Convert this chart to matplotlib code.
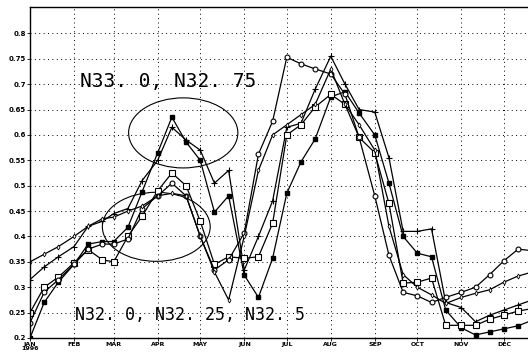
import numpy as np
import matplotlib
matplotlib.use("Agg")
from matplotlib import pyplot as plt
from matplotlib.patches import Ellipse

# dekad days (day of year), 3 per month
month_starts = [0, 31, 59, 90, 120, 151, 181, 212, 243, 273, 304, 334]
month_labels = ["JAN\n1996", "FEB", "MAR", "APR", "MAY", "JUN",
                "JUL", "AUG", "SEP", "OCT", "NOV", "DEC"]
days = [m + o for m in month_starts for o in (0, 10, 20)]

# series, one value per dekad
s_fill = [0.20, 0.27, 0.31, 0.345, 0.385, 0.39, 0.39, 0.418, 0.488,
          0.565, 0.635, 0.586, 0.55, 0.448, 0.48, 0.324, 0.28, 0.357,
          0.485, 0.547, 0.592, 0.675, 0.685, 0.643, 0.60, 0.505, 0.40,
          0.367, 0.36, 0.255, 0.22, 0.206, 0.212, 0.218, 0.224, 0.235]
s_plus = [0.315, 0.34, 0.36, 0.38, 0.42, 0.43, 0.445, 0.455, 0.51,
          0.55, 0.615, 0.59, 0.57, 0.505, 0.53, 0.334, 0.40, 0.47,
          0.615, 0.623, 0.69, 0.755, 0.70, 0.65, 0.645, 0.555, 0.41,
          0.41, 0.415, 0.27, 0.26, 0.232, 0.245, 0.255, 0.265, 0.275]
s_sq = [0.25, 0.30, 0.32, 0.348, 0.374, 0.354, 0.35, 0.40, 0.44,
        0.49, 0.525, 0.50, 0.43, 0.345, 0.36, 0.357, 0.36, 0.426,
        0.60, 0.62, 0.655, 0.68, 0.66, 0.595, 0.565, 0.465, 0.308,
        0.31, 0.318, 0.225, 0.225, 0.225, 0.237, 0.245, 0.253, 0.258]
s_circ = [0.23, 0.29, 0.315, 0.345, 0.375, 0.385, 0.385, 0.395, 0.455,
          0.48, 0.505, 0.48, 0.40, 0.334, 0.354, 0.407, 0.562, 0.627,
          0.753, 0.74, 0.73, 0.72, 0.68, 0.595, 0.48, 0.363, 0.29,
          0.283, 0.27, 0.28, 0.29, 0.30, 0.325, 0.352, 0.375, 0.372]
s_dot = [0.35, 0.365, 0.38, 0.40, 0.42, 0.435, 0.438, 0.45, 0.46,
         0.48, 0.485, 0.48, 0.40, 0.33, 0.275, 0.40, 0.53, 0.60,
         0.62, 0.64, 0.66, 0.73, 0.66, 0.62, 0.57, 0.42, 0.325,
         0.30, 0.285, 0.268, 0.28, 0.288, 0.295, 0.31, 0.322, 0.33]

fig = plt.figure(figsize=(5.28, 3.57), dpi=100)
ax = fig.add_axes([30 / 528, 19 / 357, 498 / 528, 331 / 357])

ax.plot(days, s_fill, color="black", lw=0.9, marker="s", ms=2.5,
        mfc="black", mec="black")
ax.plot(days, s_plus, color="black", lw=0.9, marker="+", ms=4, mew=0.8)
ax.plot(days, s_sq, color="black", lw=0.9, marker="s", ms=4,
        mfc="white", mec="black", mew=0.8)
ax.plot(days, s_circ, color="black", lw=0.9, marker="o", ms=3.5,
        mfc="white", mec="black", mew=0.8)
ax.plot(days, s_dot, color="black", lw=0.9, marker="d", ms=2.5,
        mfc="white", mec="black", mew=0.6)

ax.add_patch(Ellipse((108, 0.604), 77, 0.138, fill=False, lw=0.8,
                     color="black"))
ax.add_patch(Ellipse((89, 0.419), 76, 0.136, fill=False, lw=0.8,
                     color="black"))
ax.text(35, 0.705, "N33. 0, N32. 75", fontsize=14,
        family="DejaVu Sans Mono", va="center")
ax.text(32, 0.245, "N32. 0, N32. 25, N32. 5", fontsize=12,
        family="DejaVu Sans Mono", va="center")

ax.set_xlim(0, 351)
ax.set_ylim(0.2, 0.852)
ax.set_xticks(month_starts)
ax.set_xticklabels(month_labels, fontsize=4.5, fontweight="bold",
                   linespacing=0.8)
yt = np.arange(0.2, 0.801, 0.05)
ax.set_yticks(yt)
ax.set_yticklabels(["%g" % round(v, 2) for v in yt], fontsize=5,
                   fontweight="bold")
ax.tick_params(length=2, width=0.6, pad=1)
ax.grid(True, color="black", lw=0.7, linestyle=(0, (1, 3.5)))
ax.spines["right"].set_visible(False)
for s in ["left", "top", "bottom"]:
    ax.spines[s].set_linewidth(1.0)

fig.savefig("out.png", dpi=100)
